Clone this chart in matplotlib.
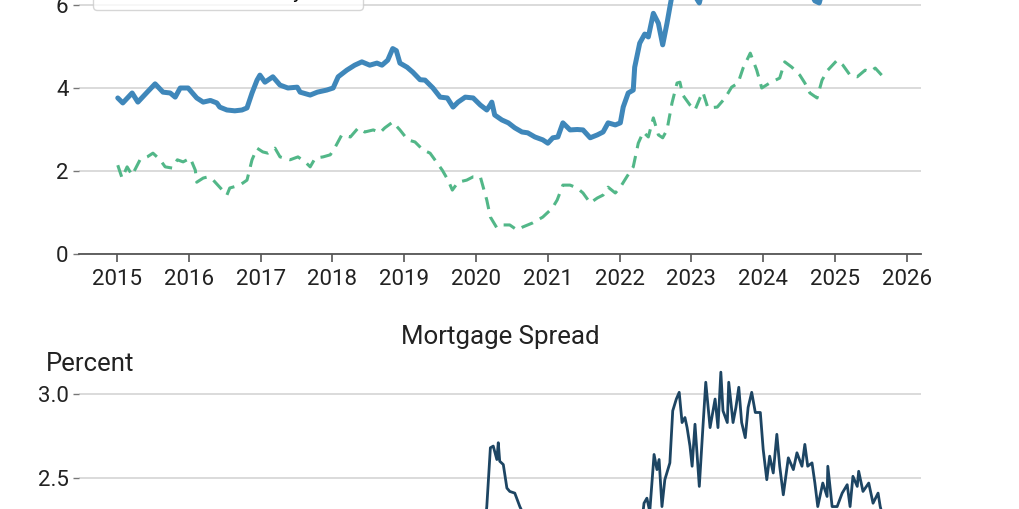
import matplotlib
matplotlib.use("Agg")
import matplotlib.pyplot as plt
import numpy as np

plt.rcParams['font.family'] = ['Roboto', 'DejaVu Sans']

# ---------------- data ----------------
mort_years = [2015.01, 2015.08, 2015.21, 2015.29, 2015.42, 2015.53, 2015.64, 2015.74, 2015.81, 2015.88,
              2015.99, 2016.11, 2016.20, 2016.30, 2016.39, 2016.43, 2016.53, 2016.64, 2016.74, 2016.81,
              2016.88, 2016.95, 2016.99, 2017.06, 2017.17, 2017.27, 2017.38, 2017.51, 2017.55, 2017.69,
              2017.79, 2017.92, 2018.01, 2018.08, 2018.20, 2018.31, 2018.41, 2018.52, 2018.62, 2018.69,
              2018.77, 2018.84, 2018.89, 2018.94, 2019.04, 2019.12, 2019.22, 2019.29, 2019.40, 2019.50,
              2019.60, 2019.68, 2019.75, 2019.85, 2019.96, 2020.06, 2020.15, 2020.20, 2020.22, 2020.26,
              2020.36, 2020.45, 2020.54, 2020.64, 2020.72, 2020.82, 2020.93, 2021.00, 2021.07, 2021.14,
              2021.21, 2021.31, 2021.41, 2021.49, 2021.59, 2021.69, 2021.77, 2021.84, 2021.94, 2022.01,
              2022.05, 2022.12, 2022.19, 2022.21, 2022.28, 2022.35, 2022.40, 2022.47, 2022.54, 2022.60,
              2022.66, 2022.70, 2022.78, 2022.87, 2022.95, 2023.02, 2023.11, 2023.20, 2023.30, 2023.45,
              2023.60, 2023.80, 2023.95, 2024.10, 2024.30, 2024.45, 2024.60, 2024.72, 2024.78, 2024.90,
              2025.03, 2025.20, 2025.40, 2025.55, 2025.68]
mort_rate = [3.76, 3.64, 3.88, 3.66, 3.90, 4.10, 3.90, 3.88, 3.78, 4.00,
             4.00, 3.76, 3.66, 3.70, 3.64, 3.54, 3.47, 3.45, 3.47, 3.52,
             3.88, 4.19, 4.31, 4.14, 4.27, 4.07, 4.00, 4.02, 3.90, 3.83,
             3.90, 3.95, 4.00, 4.27, 4.43, 4.55, 4.63, 4.55, 4.60, 4.55,
             4.67, 4.95, 4.90, 4.60, 4.50, 4.38, 4.20, 4.19, 4.00, 3.78,
             3.76, 3.54, 3.66, 3.78, 3.76, 3.59, 3.47, 3.60, 3.66, 3.35,
             3.23, 3.16, 3.04, 2.94, 2.92, 2.82, 2.75, 2.67, 2.80, 2.82,
             3.16, 2.99, 3.00, 2.99, 2.80, 2.87, 2.94, 3.16, 3.11, 3.16,
             3.54, 3.88, 3.95, 4.50, 5.08, 5.30, 5.23, 5.80, 5.56, 5.04,
             5.56, 5.95, 6.70, 7.08, 6.60, 6.30, 6.05, 6.70, 6.30, 6.70,
             6.90, 7.79, 6.60, 6.60, 7.20, 6.90, 6.50, 6.10, 6.05, 6.80,
             7.04, 6.80, 6.80, 6.70, 6.60]

tsy_years = [2015.01, 2015.07, 2015.14, 2015.21, 2015.32, 2015.42, 2015.50, 2015.60, 2015.67, 2015.77,
             2015.84, 2015.92, 2016.02, 2016.09, 2016.11, 2016.20, 2016.27, 2016.34, 2016.43, 2016.53,
             2016.57, 2016.71, 2016.81, 2016.88, 2016.95, 2017.03, 2017.10, 2017.20, 2017.27, 2017.41,
             2017.52, 2017.62, 2017.69, 2017.76, 2017.87, 2017.97, 2018.04, 2018.13, 2018.25, 2018.36,
             2018.45, 2018.57, 2018.66, 2018.73, 2018.84, 2018.94, 2019.05, 2019.15, 2019.26, 2019.36,
             2019.46, 2019.53, 2019.61, 2019.67, 2019.75, 2019.87, 2019.96, 2020.06, 2020.15, 2020.20,
             2020.29, 2020.38, 2020.47, 2020.57, 2020.65, 2020.79, 2020.93, 2021.06, 2021.13, 2021.21,
             2021.31, 2021.41, 2021.49, 2021.59, 2021.69, 2021.77, 2021.84, 2021.94, 2022.01, 2022.10,
             2022.19, 2022.26, 2022.33, 2022.40, 2022.47, 2022.54, 2022.60, 2022.66, 2022.73, 2022.80,
             2022.84, 2022.88, 2022.98, 2023.05, 2023.12, 2023.16, 2023.23, 2023.36, 2023.47, 2023.56,
             2023.65, 2023.72, 2023.82, 2023.91, 2023.98, 2024.09, 2024.23, 2024.30, 2024.40, 2024.51,
             2024.58, 2024.65, 2024.75, 2024.82, 2024.90, 2025.03, 2025.11, 2025.21, 2025.31, 2025.42,
             2025.49, 2025.56, 2025.65]
tsy_yield = [2.14, 1.83, 2.10, 1.90, 2.27, 2.34, 2.43, 2.27, 2.10, 2.07,
             2.27, 2.22, 2.31, 2.02, 1.73, 1.83, 1.86, 1.78, 1.61, 1.42,
             1.59, 1.66, 1.78, 2.27, 2.55, 2.46, 2.43, 2.55, 2.34, 2.27,
             2.34, 2.22, 2.10, 2.31, 2.34, 2.39, 2.58, 2.87, 2.82, 3.04,
             2.94, 2.99, 2.92, 3.04, 3.18, 2.99, 2.75, 2.70, 2.51, 2.43,
             2.19, 2.02, 1.78, 1.54, 1.73, 1.78, 1.86, 1.86, 1.30, 0.89,
             0.63, 0.70, 0.70, 0.58, 0.65, 0.75, 0.89, 1.10, 1.30, 1.66,
             1.66, 1.59, 1.47, 1.23, 1.35, 1.42, 1.61, 1.47, 1.61, 1.86,
             2.10, 2.67, 2.94, 2.82, 3.28, 2.87, 2.80, 2.99, 3.64, 4.12,
             4.14, 3.83, 3.59, 3.47, 3.76, 3.90, 3.52, 3.54, 3.76, 4.02,
             4.12, 4.48, 4.84, 4.43, 4.00, 4.12, 4.24, 4.63, 4.50, 4.31,
             4.12, 3.88, 3.76, 4.19, 4.43, 4.67, 4.55, 4.31, 4.27, 4.43,
             4.39, 4.48, 4.31]

spread_years = [2015.00, 2015.30, 2015.60, 2016.00, 2016.40, 2016.70, 2016.90, 2017.30, 2017.70, 2018.00,
                2018.50, 2018.90, 2019.30, 2019.70, 2020.00, 2020.10, 2020.15, 2020.20, 2020.24, 2020.29,
                2020.31, 2020.33, 2020.38, 2020.43, 2020.47, 2020.54, 2020.61, 2020.70, 2020.90, 2021.10,
                2021.30, 2021.50, 2021.70, 2021.90, 2022.00, 2022.15, 2022.30, 2022.34, 2022.38, 2022.42,
                2022.48, 2022.52, 2022.55, 2022.59, 2022.63, 2022.70, 2022.74, 2022.79, 2022.83, 2022.87,
                2022.91, 2022.94, 2022.98, 2023.01, 2023.05, 2023.11, 2023.16, 2023.20, 2023.26, 2023.33,
                2023.37, 2023.41, 2023.44, 2023.50, 2023.52, 2023.58, 2023.62, 2023.66, 2023.70, 2023.75,
                2023.79, 2023.84, 2023.89, 2023.96, 2024.00, 2024.05, 2024.09, 2024.14, 2024.19, 2024.23,
                2024.28, 2024.35, 2024.42, 2024.47, 2024.54, 2024.58, 2024.62, 2024.68, 2024.72, 2024.76,
                2024.83, 2024.89, 2024.90, 2024.96, 2025.03, 2025.10, 2025.17, 2025.21, 2025.25, 2025.31,
                2025.33, 2025.39, 2025.47, 2025.53, 2025.60, 2025.63, 2025.68]
spread = [1.65, 1.75, 1.85, 1.75, 1.95, 2.00, 1.65, 1.75, 1.85, 1.60,
          1.65, 1.85, 1.85, 2.00, 1.90, 2.10, 2.33, 2.68, 2.69, 2.61,
          2.71, 2.60, 2.58, 2.44, 2.42, 2.41, 2.33, 2.25, 2.15, 1.75,
          1.50, 1.65, 1.75, 1.65, 1.70, 1.95, 2.20, 2.35, 2.38, 2.30,
          2.64, 2.55, 2.61, 2.33, 2.49, 2.59, 2.90, 2.97, 3.01, 2.83,
          2.86, 2.80, 2.69, 2.57, 2.82, 2.45, 2.80, 3.07, 2.80, 2.97,
          2.80, 3.13, 2.90, 2.83, 3.07, 2.83, 2.92, 3.04, 2.83, 2.74,
          2.92, 3.01, 2.89, 2.89, 2.67, 2.49, 2.63, 2.53, 2.76, 2.57,
          2.40, 2.62, 2.55, 2.65, 2.57, 2.70, 2.57, 2.59, 2.47, 2.33,
          2.47, 2.39, 2.57, 2.33, 2.33, 2.41, 2.46, 2.33, 2.51, 2.45,
          2.54, 2.42, 2.47, 2.35, 2.41, 2.33, 2.25]

year_ticks = list(range(2015, 2027))
top_yticks = [0, 2, 4, 6, 8]
bot_yticks = [1.5, 2.0, 2.5, 3.0]

# ---------------- figure ----------------
W, H = 1019, 509
fig = plt.figure(figsize=(W / 100, H / 100), dpi=100)

left_px, right_px = 79, 921
xlim = (2014.47, 2026.198)

top_bottom_px = 254
ax1 = fig.add_axes([left_px / W, (H - top_bottom_px) / H,
                    (right_px - left_px) / W, 8 * 41.5 / H])
ax2_top_px = 394 - 0.25 * 168
ax2 = fig.add_axes([left_px / W, (H - ax2_top_px) / H - 1.75 * 168 / H,
                    (right_px - left_px) / W, 1.75 * 168 / H])

grid_c = '#d4d4d4'
for ax in (ax1, ax2):
    ax.set_xlim(*xlim)
    ax.set_xticks(year_ticks)
    ax.set_xticklabels([str(y) for y in year_ticks])
    for s in ('top', 'right', 'left'):
        ax.spines[s].set_visible(False)
    ax.spines['bottom'].set_color('#555555')
    ax.spines['bottom'].set_linewidth(1.3)
    ax.yaxis.grid(True, color=grid_c, linewidth=1.2)
    ax.set_axisbelow(True)
    ax.tick_params(axis='y', length=4.5, width=1.0, color='#777777', pad=3, labelsize=16)
    ax.tick_params(axis='x', length=6, width=1.2, color='#555555', pad=5, labelsize=16)

ax1.plot(mort_years, mort_rate, color='#3f87ba', linewidth=3.6, solid_capstyle='round',
         label='30-Year Fixed Mortgage Rate', zorder=3)
ax1.plot(tsy_years, tsy_yield, color='#52b788', linewidth=2.2, linestyle=(0, (4, 2.6)),
         label='10-Year Treasury Yield', zorder=3)
ax1.set_ylim(0, 8)
ax1.set_yticks(top_yticks)
ax1.set_yticklabels([str(v) for v in top_yticks])

leg_h = 60 / (8 * 41.5)
leg = ax1.legend(loc='lower left', mode='expand', borderaxespad=0,
                 bbox_to_anchor=((93 - left_px) / (right_px - left_px), (254 - 10) / (8 * 41.5),
                                 270 / (right_px - left_px), leg_h),
                 fontsize=14, frameon=True, fancybox=True)
leg.get_frame().set_edgecolor('#cccccc')
leg.get_frame().set_linewidth(1.0)

ax2.plot(spread_years, spread, color='#1d4563', linewidth=2.0, zorder=3)
ax2.set_ylim(1.5, 3.25)
ax2.set_yticks(bot_yticks)
ax2.set_yticklabels([f'{v:.1f}' for v in bot_yticks])
ax2.set_title('Mortgage Spread', fontsize=18.6, pad=6, color='#222222')
fig.text(46 / W, 1 - 364 / H, 'Percent', ha='left', va='center', fontsize=18.5, color='#222222')

for ax in (ax1, ax2):
    for lab in ax.get_xticklabels() + ax.get_yticklabels():
        lab.set_color('#222222')

fig.savefig('out.png', dpi=100, facecolor='white')
